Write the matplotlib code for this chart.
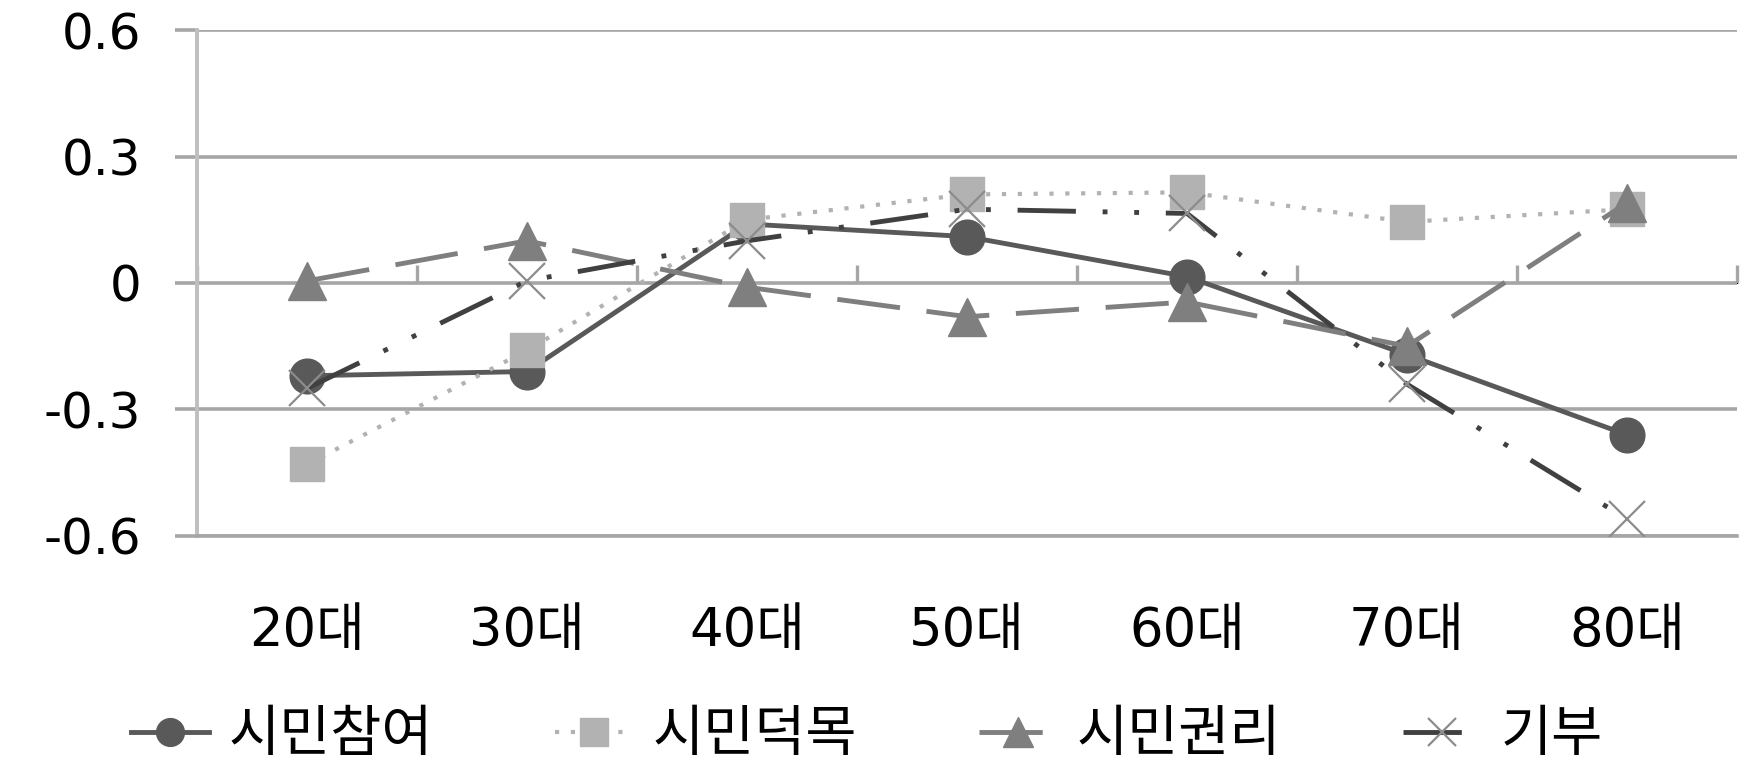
import matplotlib
matplotlib.use("Agg")
import matplotlib.pyplot as plt

# DejaVu for digits, Noto CJK KR picks up the Hangul glyphs
plt.rcParams['font.family'] = ['DejaVu Sans', 'Noto Sans CJK KR']

# ── data ──────────────────────────────────────────────────────
age_groups = ["20대", "30대", "40대", "50대", "60대", "70대", "80대"]
participation = [-0.22, -0.21, 0.14, 0.11, 0.015, -0.17, -0.36]   # 시민참여
virtue        = [-0.43, -0.16, 0.15, 0.21, 0.215, 0.145, 0.175]   # 시민덕목
rights        = [0.005, 0.10, -0.01, -0.08, -0.045, -0.15, 0.19]  # 시민권리
donation      = [-0.25, 0.005, 0.10, 0.175, 0.165, -0.24, -0.56]  # 기부
y_ticks = [-0.6, -0.3, 0, 0.3, 0.6]
y_tick_labels = ["-0.6", "-0.3", "0", "0.3", "0.6"]

GRID = "#a6a6a6"
AXIS = "#bfbfbf"
LW = 3.5

fig = plt.figure(figsize=(17.48, 7.66), dpi=100)
ax = fig.add_axes([0.1127, 0.3003, 0.881, 0.6605])

x = list(range(len(age_groups)))

ax.plot(x, participation, color="#595959", lw=LW, marker="o", ms=25,
        mfc="#595959", mec="#595959", label="시민참여", zorder=3)
ax.plot(x, virtue, color="#b2b2b2", lw=LW - 0.5, ls=(0, (1, 2.8)),
        marker="s", ms=25, mfc="#b2b2b2", mec="#b2b2b2",
        label="시민덕목", zorder=3)
ax.plot(x, rights, color="#7f7f7f", lw=LW, ls=(0, (13, 5.5)), marker="^",
        ms=27, mfc="#7f7f7f", mec="#7f7f7f", label="시민권리", zorder=3)
ax.plot(x, donation, color="#404040", lw=LW,
        ls=(0, (12, 5.5, 1, 5.5, 1, 5.5)), marker="x", ms=26, mew=1.6,
        mec="#8c8c8c", label="기부", zorder=3)

# ── axes styling ──────────────────────────────────────────────
ax.set_xlim(-0.5, len(age_groups) - 0.5)
ax.set_ylim(-0.6, 0.6)
ax.set_yticks(y_ticks)
ax.set_yticklabels(y_tick_labels)
ax.yaxis.grid(True, color=GRID, lw=2.6)
ax.set_axisbelow(True)

for side in ("top", "right"):
    ax.spines[side].set_visible(False)
ax.spines["left"].set_color(AXIS)
ax.spines["left"].set_linewidth(2.8)
ax.spines["bottom"].set_color(GRID)
ax.spines["bottom"].set_linewidth(2.6)

ax.tick_params(axis="y", length=16, width=2.6, color=GRID, pad=24,
               labelsize=36)
ax.set_xticks(x)
ax.set_xticklabels(age_groups)
ax.tick_params(axis="x", length=0, pad=50, labelsize=38)

# category axis crossing at zero, with boundary tick marks
zero_axis = ax.secondary_xaxis(0.5)
zero_axis.set_xticks([i - 0.5 for i in range(len(age_groups) + 1)])
zero_axis.set_xticklabels([])
zero_axis.spines["bottom"].set_color(GRID)
zero_axis.spines["bottom"].set_linewidth(2.6)
zero_axis.xaxis.set_tick_params(direction="out", length=13, width=2.4,
                                color=GRID)

fig.legend(loc="center left", bbox_to_anchor=(0.075, 0.039), ncol=4,
           frameon=False, fontsize=40, handlelength=1.4,
           handletextpad=0.35, columnspacing=2.2, borderpad=0,
           borderaxespad=0, markerscale=0.8)

fig.savefig("out.png", dpi=100)
